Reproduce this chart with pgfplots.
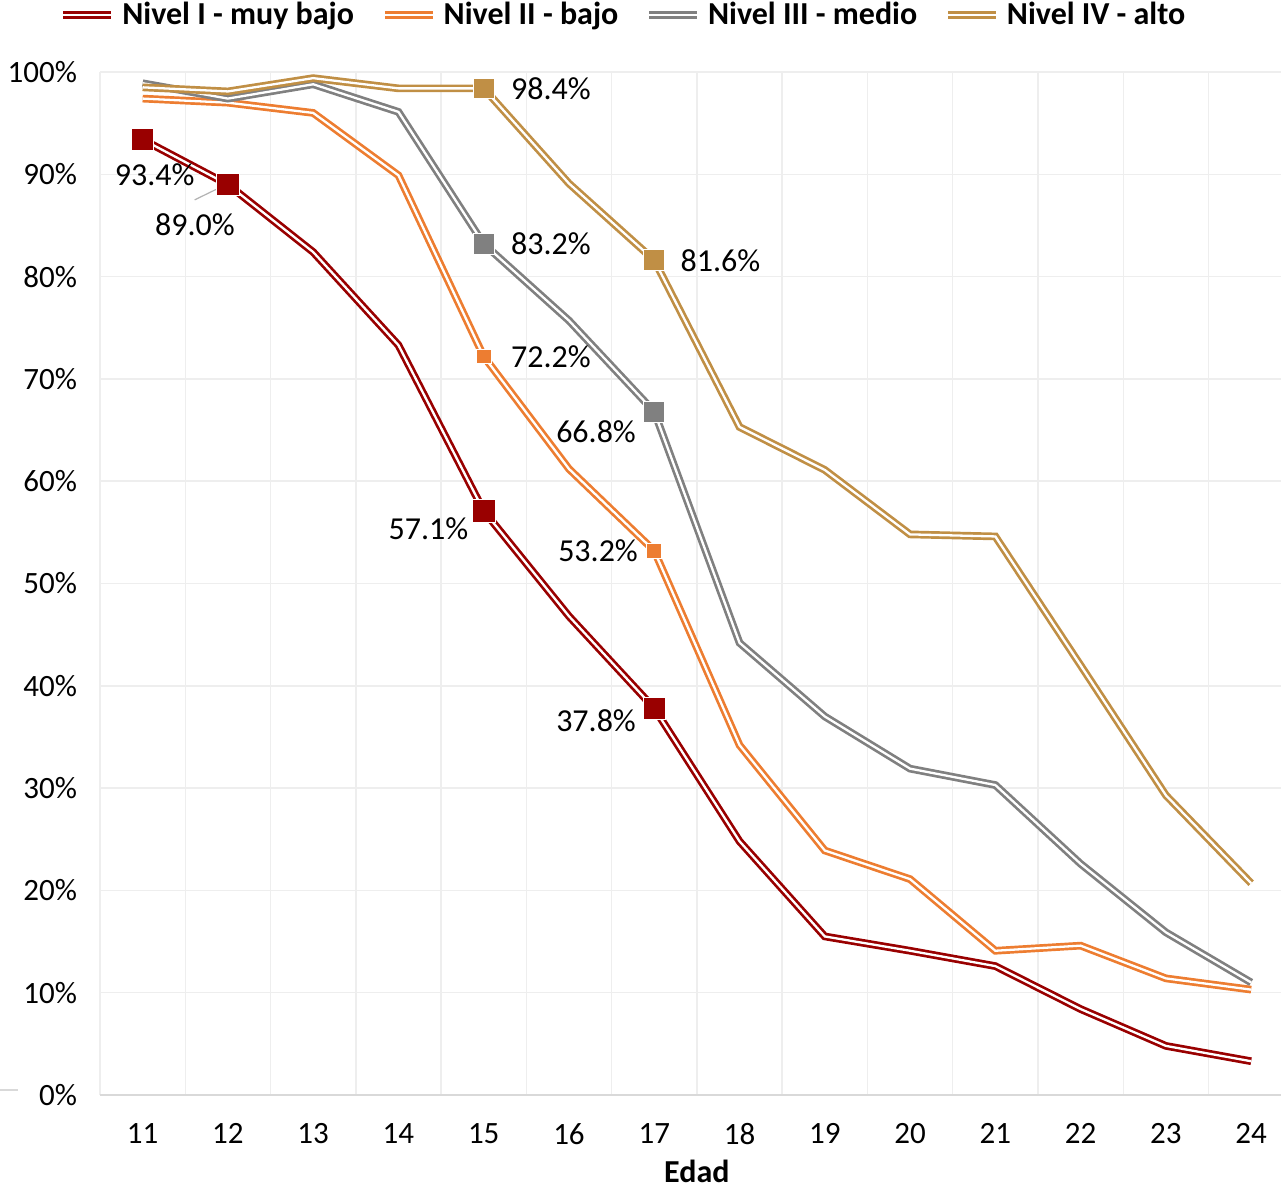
\documentclass[border=0pt]{standalone}
\usepackage{fontspec}
\setmainfont{Carlito}
\usepackage{pgfplots}
\usepackage{pgfplotstable}
\pgfplotsset{compat=1.18}
\definecolor{cI}{RGB}{153,0,0}
\definecolor{cII}{RGB}{237,125,49}
\definecolor{cIII}{RGB}{128,128,128}
\definecolor{cIV}{RGB}{192,143,69}
\definecolor{gridc}{RGB}{238,238,238}
\definecolor{axc}{RGB}{217,217,217}
\newcommand{\tickfont}{\fontsize{15.5}{18}\selectfont}
\newcommand{\lblfont}{\fontsize{16}{19}\selectfont}

\pgfplotstableread{
edad I II III IV
11 93.4 97.4 98.9 98.5
12 89.0 97.0 97.4 98.1
13 82.4 96.0 98.8 99.4
14 73.3 89.9 96.1 98.4
15 57.1 72.2 83.2 98.4
16 46.8 61.2 75.7 89.1
17 37.8 53.2 66.8 81.6
18 24.8 34.2 44.2 65.3
19 15.5 23.9 37.0 61.1
20 14.1 21.1 31.9 54.8
21 12.6 14.1 30.3 54.6
22 8.4 14.6 22.6 42.0
23 4.8 11.4 15.9 29.3
24 3.3 10.3 11.0 20.7
}\datatab

\begin{document}
\begin{tikzpicture}
\path[use as bounding box] (0,0) rectangle (640.5pt,595pt);
\draw[axc, line width=0.75pt] (0pt,50pt) -- (9pt,50pt);
\begin{axis}[
  at={(50pt,47.5pt)}, anchor=south west,
  scale only axis, width=590.5pt, height=511.5pt,
  xmin=10.5, xmax=24.35, ymin=0, ymax=100,
  xtick={11,...,24},
  ytick={0,10,...,100},
  yticklabels={0\%,10\%,20\%,30\%,40\%,50\%,60\%,70\%,80\%,90\%,100\%},
  minor xtick={10.5,11.5,...,23.5},
  xmajorgrids=false, ymajorgrids=true, xminorgrids=true,
  grid style={gridc, line width=0.75pt},
  minor grid style={gridc, line width=0.75pt},
  major tick length=0pt, minor tick length=0pt,
  axis x line*=bottom, axis y line*=left,
  x axis line style={axc, line width=0.75pt},
  y axis line style={draw=none},
  /pgf/number format/assume math mode=true,
  ticklabel style={font=\tickfont, text=black},
  yticklabel style={xshift=-8pt},
  xticklabel style={yshift=-10.5pt},
  xlabel={\bfseries Edad},
  xlabel style={at={(axis description cs:0.5054,0)}, anchor=center, yshift=-38pt, font=\fontsize{16}{19}\selectfont},
  legend style={at={(axis description cs:0.4424,1.0557)}, anchor=center,
    legend columns=4, draw=none, fill=none,
    font=\fontsize{16}{19}\selectfont\bfseries,
    nodes={inner sep=0pt},
    /tikz/every odd column/.append style={column sep=3.5pt},
    /tikz/every even column/.append style={column sep=13.5pt}},
  legend image code/.code={\draw[#1] (0pt,0pt) -- (24pt,0pt);},
  clip=false,
]
\addplot[draw=cI, double=white, line width=1.35pt, double distance=1.15pt, no markers] table[x=edad, y=I] {\datatab};
\addlegendentry{Nivel I - muy bajo}
\addplot[draw=cII, double=white, line width=1.35pt, double distance=1.15pt, no markers] table[x=edad, y=II] {\datatab};
\addlegendentry{Nivel II - bajo}
\addplot[draw=cIII, double=white, line width=1.35pt, double distance=1.15pt, no markers] table[x=edad, y=III] {\datatab};
\addlegendentry{Nivel III - medio}
\addplot[draw=cIV, double=white, line width=1.35pt, double distance=1.15pt, no markers] table[x=edad, y=IV] {\datatab};
\addlegendentry{Nivel IV - alto}

\addplot[only marks, mark=square*, mark size=5.6pt, mark options={fill=cI, draw=white, line width=0.4pt}, forget plot] coordinates {(11,93.4) (12,89.0) (15,57.1) (17,37.8)};
\addplot[only marks, mark=square*, mark size=3.7pt, mark options={fill=cII, draw=white, line width=0.4pt}, forget plot] coordinates {(15,72.2) (17,53.2)};
\addplot[only marks, mark=square*, mark size=5.2pt, mark options={fill=cIII, draw=white, line width=0.4pt}, forget plot] coordinates {(15,83.2) (17,66.8)};
\addplot[only marks, mark=square*, mark size=5.2pt, mark options={fill=cIV, draw=white, line width=0.4pt}, forget plot] coordinates {(15,98.4) (17,81.6)};

\draw[gray!60, line width=0.6pt] (axis cs:11.61,87.5) -- (axis cs:11.93,88.8);
\node[font=\lblfont, inner sep=0pt, xshift=6pt, yshift=-17.5pt] at (axis cs:11,93.4) {93.4\%};
\node[font=\lblfont, inner sep=0pt, xshift=-16.5pt, yshift=-20pt] at (axis cs:12,89.0) {89.0\%};
\node[font=\lblfont, inner sep=0pt, anchor=east, xshift=-7.5pt, yshift=-9pt] at (axis cs:15,57.1) {57.1\%};
\node[font=\lblfont, inner sep=0pt, anchor=east, xshift=-9pt, yshift=-6pt] at (axis cs:17,37.8) {37.8\%};
\node[font=\lblfont, inner sep=0pt, anchor=west, xshift=13.5pt] at (axis cs:15,72.2) {72.2\%};
\node[font=\lblfont, inner sep=0pt, anchor=east, xshift=-8pt] at (axis cs:17,53.2) {53.2\%};
\node[font=\lblfont, inner sep=0pt, anchor=west, xshift=13.5pt] at (axis cs:15,83.2) {83.2\%};
\node[font=\lblfont, inner sep=0pt, anchor=east, xshift=-9pt, yshift=-10pt] at (axis cs:17,66.8) {66.8\%};
\node[font=\lblfont, inner sep=0pt, anchor=west, xshift=13.5pt] at (axis cs:15,98.4) {98.4\%};
\node[font=\lblfont, inner sep=0pt, anchor=west, xshift=13pt] at (axis cs:17,81.6) {81.6\%};
\end{axis}
\end{tikzpicture}
\end{document}
